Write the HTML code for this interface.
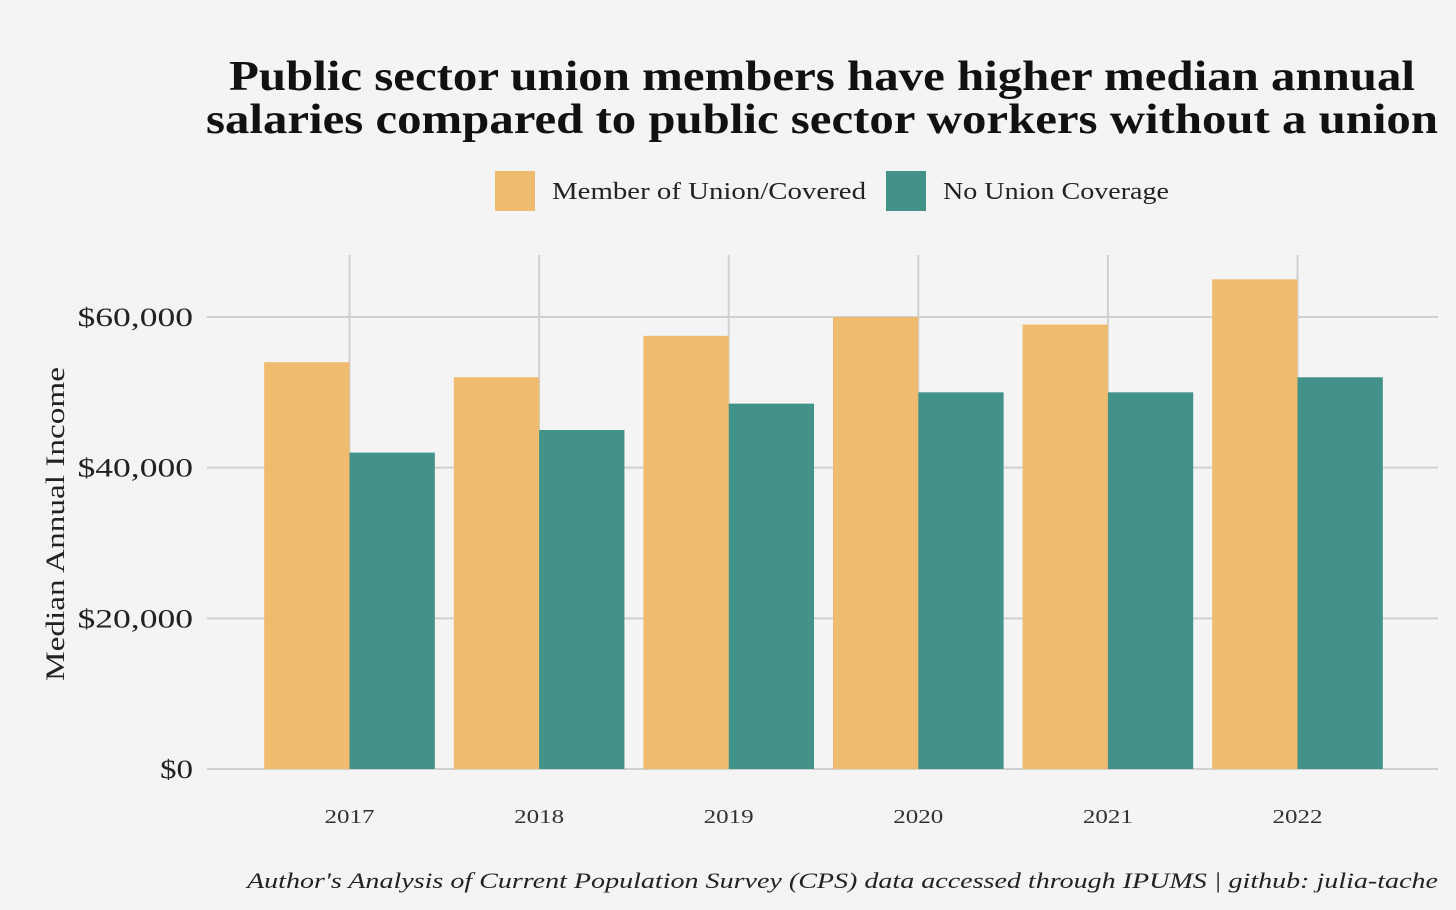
<!DOCTYPE html>
<html><head><meta charset="utf-8"><style>
body{margin:0;background:#f4f4f4;}
svg{display:block;font-family:"Liberation Serif",serif;}
</style></head><body>
<svg id="chart" width="1456" height="910">
<rect width="1456" height="910" fill="#f4f4f4"/>
<text x="822" y="90" text-anchor="middle" font-size="42" font-weight="bold" fill="#111" textLength="1186" lengthAdjust="spacingAndGlyphs">Public sector union members have higher median annual</text>
<text x="822" y="133" text-anchor="middle" font-size="42" font-weight="bold" fill="#111" textLength="1232" lengthAdjust="spacingAndGlyphs">salaries compared to public sector workers without a union</text>
<g>
<rect x="495" y="171" width="40" height="40" fill="#efbb6e"/>
<text x="552" y="199" font-size="24" fill="#222" textLength="314" lengthAdjust="spacingAndGlyphs">Member of Union/Covered</text>
<rect x="886" y="171" width="40" height="40" fill="#42928a"/>
<text x="943" y="199" font-size="24" fill="#222" textLength="226" lengthAdjust="spacingAndGlyphs">No Union Coverage</text>
</g>
<g id="grid"></g>
<g id="bars"></g>
<g id="axes"></g>
<text transform="translate(64,524) rotate(-90)" text-anchor="middle" font-size="26" fill="#222" textLength="314" lengthAdjust="spacingAndGlyphs">Median Annual Income</text>
<text x="1438" y="888" text-anchor="end" font-size="22" font-style="italic" fill="#222" textLength="1191" lengthAdjust="spacingAndGlyphs">Author's Analysis of Current Population Survey (CPS) data accessed through IPUMS | github: julia-tache</text>
</svg>
<script>
const categories=["2017","2018","2019","2020","2021","2022"];
const unionValues=[54000,52000,57500,60000,59000,65000];
const noUnionValues=[42000,45000,48500,50000,50000,52000];
const yTicks=[0,20000,40000,60000];
const yTickLabels=["$0","$20,000","$40,000","$60,000"];
const NS="http://www.w3.org/2000/svg";
const x0=207,x1=1438,y0=769,pxPer=452/60000;
const step=189.6,firstC=349.5;
const xC=i=>firstC+i*step;
const yS=v=>y0-v*pxPer;
const bw=step*0.9/2;
function mk(tag,attrs,parent){const e=document.createElementNS(NS,tag);for(const k in attrs)e.setAttribute(k,attrs[k]);parent.appendChild(e);return e;}
const grid=document.getElementById('grid'),bars=document.getElementById('bars'),axes=document.getElementById('axes');
yTicks.forEach((t,i)=>{
 const l=mk('line',{x1:x0,x2:x1,y1:yS(t),y2:yS(t),stroke:'#d0d0d0','stroke-width':2},grid);
 
 
 const lab=yTickLabels[i];
 const tx=mk('text',{x:193,y:yS(t)+9,'text-anchor':'end','font-size':26,fill:'#222',textLength:lab.length*16.5,lengthAdjust:'spacingAndGlyphs'},axes);
 tx.textContent=lab;
 
 
});
categories.forEach((c,i)=>{
 const l=mk('line',{x1:xC(i),x2:xC(i),y1:255,y2:y0,stroke:'#d0d0d0','stroke-width':2},grid);
 
 
 const b1=mk('rect',{x:xC(i)-bw,y:yS(unionValues[i]),width:bw,height:y0-yS(unionValues[i]),fill:'#efbb6e'},bars);
 
 
 const b2=mk('rect',{x:xC(i),y:yS(noUnionValues[i]),width:bw,height:y0-yS(noUnionValues[i]),fill:'#42928a'},bars);
 
 
 const tx=mk('text',{x:xC(i),y:823,'text-anchor':'middle','font-size':20,fill:'#333',textLength:50,lengthAdjust:'spacingAndGlyphs'},axes);
 tx.textContent=c;
 
 
});
</script>
</body></html>
